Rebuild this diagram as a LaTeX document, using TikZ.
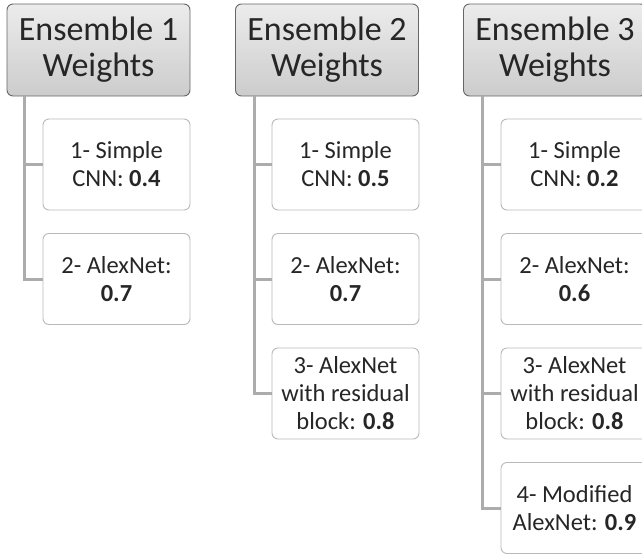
\documentclass[tikz,border=0pt]{standalone}
\usepackage{fontspec}
\setmainfont{Carlito}
\begin{document}
\begin{tikzpicture}[x=1pt,y=-1pt,
  head/.style={draw=gray!80!black, line width=0.9pt, rounded corners=6pt,
    top color=gray!15, bottom color=gray!40, minimum width=183pt, minimum height=92pt,
    align=center, inner sep=0pt, font=\fontsize{34}{36}\selectfont, text=black!85},
  child/.style={draw=gray!55, line width=0.9pt, rounded corners=6pt, fill=white,
    minimum width=147pt, minimum height=91pt, align=center, inner sep=0pt,
    font=\fontsize{24.5}{28}\selectfont, text=black!85},
  conn/.style={draw=gray!65, line width=3pt}]
\useasboundingbox (0,0) rectangle (642,555);
\clip (0,0) rectangle (642,555);
% headers
\node[head] (h1) at (98.5,50) {Ensemble 1\\Weights};
\node[head] (h2) at (327,50) {Ensemble 2\\Weights};
\node[head] (h3) at (555,50) {Ensemble 3\\Weights};
% anchor points for trunks
\coordinate (t1) at ([xshift=18pt]h1.south west);
\coordinate (t2) at ([xshift=19pt]h2.south west);
\coordinate (t3) at ([xshift=19pt]h3.south west);
% ensemble 1
\node[child] (c11) at (116.5,164.5) {1- Simple\\CNN: \textbf{0.4}};
\node[child] (c12) at (116.5,279) {2- AlexNet:\\\textbf{0.7}};
% ensemble 2
\node[child] (c21) at (345.5,164.5) {1- Simple\\CNN: \textbf{0.5}};
\node[child] (c22) at (345.5,279) {2- AlexNet:\\\textbf{0.7}};
\node[child] (c23) at (345.5,393.5) {3- AlexNet\\with residual\\block: \textbf{0.8}};
% ensemble 3
\node[child] (c31) at (574.5,164.5) {1- Simple\\CNN: \textbf{0.2}};
\node[child] (c32) at (574.5,279) {2- AlexNet:\\\textbf{0.6}};
\node[child] (c33) at (574.5,393.5) {3- AlexNet\\with residual\\block: \textbf{0.8}};
\node[child] (c34) at (574.5,508) {4- Modified\\AlexNet: \textbf{0.9}};
% connectors
\draw[conn] (t1) |- (c11.west);
\draw[conn] (t1) |- (c12.west);
\draw[conn] (t2) |- (c21.west);
\draw[conn] (t2) |- (c22.west);
\draw[conn] (t2) |- (c23.west);
\draw[conn] (t3) |- (c31.west);
\draw[conn] (t3) |- (c32.west);
\draw[conn] (t3) |- (c33.west);
\draw[conn] (t3) |- (c34.west);
\end{tikzpicture}
\end{document}
